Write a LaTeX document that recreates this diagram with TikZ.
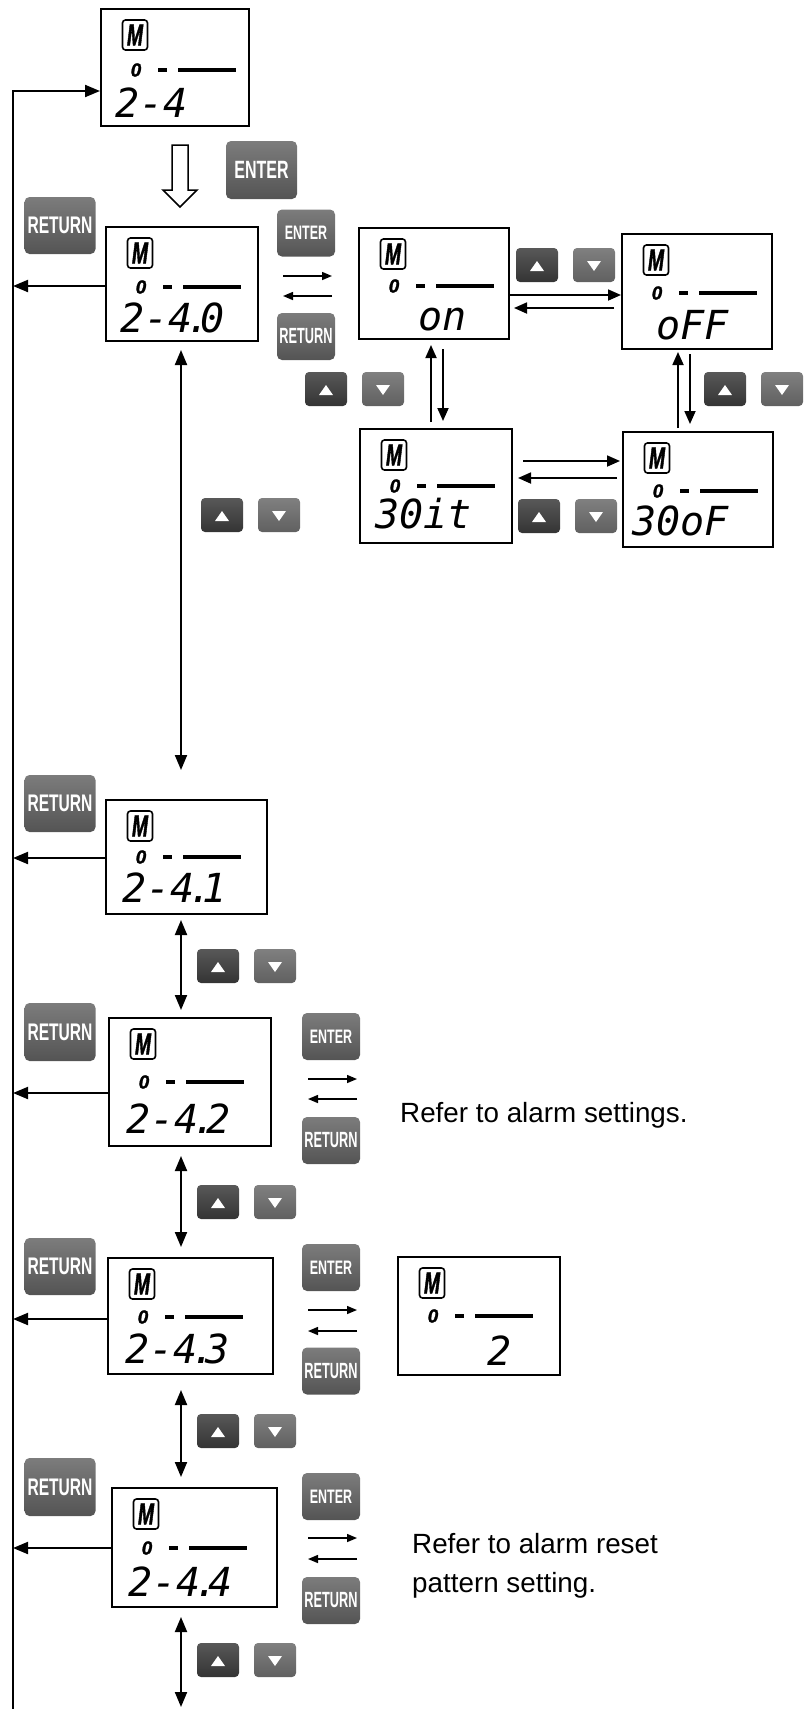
\documentclass[tikz,border=0pt]{standalone}
\usepackage{fontspec}
\setmainfont{Liberation Sans}
\newfontfamily\segfont{DejaVu Sans Mono}
\newfontfamily\zerofont{Liberation Sans}[FakeBold=1.5]
\newfontfamily\mfont{Liberation Sans}[FakeBold=2]
\usepackage{graphicx}
\usetikzlibrary{arrows.meta,calc}

\definecolor{btnTop}{RGB}{124,124,124}
\definecolor{btnBot}{RGB}{84,84,84}
\definecolor{upTop}{RGB}{88,88,88}
\definecolor{upBot}{RGB}{52,52,52}
\definecolor{dnTop}{RGB}{128,128,128}
\definecolor{dnBot}{RGB}{96,96,96}

\tikzset{
  lcdbox/.style={draw=black, line width=2pt, inner sep=0pt, fill=white},
  mbox/.style={draw=black, line width=1.6pt, rounded corners=3pt, minimum width=25pt, minimum height=30pt, inner sep=0pt, font=\mfont\fontsize{30}{30}\selectfont\bfseries\itshape},
  zerotxt/.style={inner sep=0pt, font=\zerofont\fontsize{19}{19}\selectfont\bfseries\itshape},
  segtxt/.style={inner sep=0pt, anchor=base west, font=\segfont\fontsize{40}{40}\selectfont\itshape},
  keybtn/.style={rounded corners=5pt, top color=btnTop, bottom color=btnBot, draw=none, inner sep=0pt, text=white, font=\bfseries},
  upbtn/.style={rounded corners=4pt, top color=upTop, bottom color=upBot, draw=none, minimum width=42pt, minimum height=34pt, inner sep=0pt,
    path picture={\fill[white, sharp corners] ($(path picture bounding box.center)+(0,-4)$) -- ++(7,10) -- ++(-14,0) -- cycle;}},
  dnbtn/.style={rounded corners=4pt, top color=dnTop, bottom color=dnBot, draw=none, minimum width=42pt, minimum height=34pt, inner sep=0pt,
    path picture={\fill[white, sharp corners] ($(path picture bounding box.center)+(0,6)$) -- ++(7,-10) -- ++(-14,0) -- cycle;}},
  spinearr/.style={line width=2pt, -{Triangle[length=15pt,width=12pt]}},
  dblarr/.style={line width=2pt, {Triangle[length=15pt,width=12pt]}-{Triangle[length=15pt,width=12pt]}},
  midarr/.style={line width=1.8pt, -{Triangle[length=13pt,width=11pt]}},
  smarr/.style={line width=1.5pt, -{Triangle[length=10pt,width=8pt]}},
  desc/.style={inner sep=0pt, font=\fontsize{27.8}{39}\selectfont, align=left},
}

\newcommand{\lcd}[9]{%
  \node[lcdbox, minimum width=#4pt, minimum height=#5pt, anchor=north west] (#1) at (#2,#3) {};
  \begin{scope}[shift={(#2,#3)}]
    \node[mbox] (#1-m) at (35,27) {\scalebox{0.64}[1]{M}};
    \node[zerotxt] (#1-z) at (36,#9) {0};
    \fill (58,#9-2) rectangle (67,#9+2);
    \fill (78,#9-2) rectangle (136,#9+2);
    \node[segtxt] (#1-d) at (#7,#8) {#6};
  \end{scope}
}
\newcommand{\segdot}{\kern-6pt.\kern-10pt}
\newcommand{\updn}[3]{%
  \node[upbtn] (#1u) at ({#2+21},{#3+17}) {};
  \node[dnbtn] (#1d) at ({#2+78},{#3+17}) {};
}
\newcommand{\entbig}{\fontsize{25}{25}\selectfont\scalebox{0.64}[1]{ENTER}}
\newcommand{\retbig}{\fontsize{24}{24}\selectfont\scalebox{0.65}[1]{RETURN}}
\newcommand{\entsm}{\fontsize{19.5}{19.5}\selectfont\scalebox{0.64}[1]{ENTER}}
\newcommand{\retsm}{\fontsize{22}{22}\selectfont\scalebox{0.58}[1]{RETURN}}

\begin{document}
\begin{tikzpicture}[x=1pt, y=-1pt]
\useasboundingbox (0,0) rectangle (810,1709);

% LCD panels
\lcd{b24}{100}{8}{148}{117}{2-4}{15}{109}{62}
\lcd{b40}{105}{226}{152}{114}{2-4\segdot0}{15}{106}{61}
\lcd{on}{358}{227}{150}{111}{on}{60}{103}{59}
\lcd{off}{621}{233}{150}{115}{oFF}{35}{106}{60}
\lcd{t30i}{359}{428}{152}{114}{30it}{16}{100}{58}
\lcd{t30o}{622}{431}{150}{115}{30oF}{10}{104}{60}
\lcd{b41}{105}{799}{161}{114}{2-4\segdot1}{17}{103}{58}
\lcd{b42}{108}{1017}{162}{128}{2-4\segdot2}{18}{116}{65}
\lcd{b43}{107}{1257}{165}{116}{2-4\segdot3}{18}{106}{60}
\lcd{b44}{111}{1487}{165}{119}{2-4\segdot4}{17}{109}{61}
\lcd{b2}{397}{1256}{162}{118}{2}{90}{109}{60}

% key buttons
\node[keybtn, minimum width=71pt, minimum height=58pt] (ent0) at (261.5,170) {\entbig};
\node[keybtn, minimum width=71pt, minimum height=57pt] (ret40) at (60,225.5) {\retbig};
\node[keybtn, minimum width=71pt, minimum height=57pt] (ret41) at (60,803.5) {\retbig};
\node[keybtn, minimum width=71pt, minimum height=58pt] (ret42) at (60,1032) {\retbig};
\node[keybtn, minimum width=71pt, minimum height=57pt] (ret43) at (60,1266.5) {\retbig};
\node[keybtn, minimum width=71pt, minimum height=58pt] (ret44) at (60,1487) {\retbig};
\node[keybtn, minimum width=58pt, minimum height=47pt] (ent40) at (306,233) {\entsm};
\node[keybtn, minimum width=58pt, minimum height=47pt] (rt40) at (306,336.5) {\retsm};
\node[keybtn, minimum width=58pt, minimum height=47pt] (ent42) at (331,1036.5) {\entsm};
\node[keybtn, minimum width=58pt, minimum height=47pt] (rt42) at (331,1140.5) {\retsm};
\node[keybtn, minimum width=58pt, minimum height=47pt] (ent43) at (331,1267.5) {\entsm};
\node[keybtn, minimum width=58pt, minimum height=47pt] (rt43) at (331,1371) {\retsm};
\node[keybtn, minimum width=58pt, minimum height=47pt] (ent44) at (331,1496.5) {\entsm};
\node[keybtn, minimum width=58pt, minimum height=47pt] (rt44) at (331,1600.5) {\retsm};

% up/down buttons
\updn{k1}{516}{248}
\updn{k2}{305}{372}
\updn{k3}{704}{372}
\updn{k4}{518}{499}
\updn{k5}{201}{498}
\updn{k6}{197}{949}
\updn{k7}{197}{1185}
\updn{k8}{197}{1414}
\updn{k9}{197}{1643}

% texts
\node[desc, anchor=base west] (txt1) at (400,1122) {Refer to alarm settings.};
\node[desc, anchor=north west] (txt2) at (412,1533) {Refer to alarm reset\\pattern setting.};

% hollow arrow
\draw[line width=1.5pt, fill=white] (172,145) -- (188,145) -- (188,190) -- (197,190) -- (180,207) -- (163,190) -- (172,190) -- cycle;

% spine
\coordinate (spTop) at (13,91);
\coordinate (spBot) at (13,1709);
\draw[spinearr] (spBot) -- (spTop) -- (b24.west |- spTop);
\coordinate (s40) at (13,286);
\coordinate (s41) at (13,858);
\coordinate (s42) at (13,1093);
\coordinate (s43) at (13,1319);
\coordinate (s44) at (13,1548);
\draw[spinearr] (b40.west |- s40) -- (s40);
\draw[spinearr] (b41.west |- s41) -- (s41);
\draw[spinearr] (b42.west |- s42) -- (s42);
\draw[spinearr] (b43.west |- s43) -- (s43);
\draw[spinearr] (b44.west |- s44) -- (s44);

% main column
\coordinate (vx) at (181,0);
\coordinate (vend) at (181,1707);
\draw[dblarr, shorten <=8pt, shorten >=29pt] (b40.south -| vx) -- (b41.north -| vx);
\draw[dblarr, shorten <=5pt, shorten >=7pt] (b41.south -| vx) -- (b42.north -| vx);
\draw[dblarr, shorten <=9pt, shorten >=10pt] (b42.south -| vx) -- (b43.north -| vx);
\draw[dblarr, shorten <=15pt, shorten >=10pt] (b43.south -| vx) -- (b44.north -| vx);
\draw[dblarr, shorten <=9pt] (b44.south -| vx) -- (vend);

% on / off cycle
\draw[midarr] (on.east |- 0,295) -- (off.west |- 0,295);
\draw[midarr, shorten <=7pt, shorten >=4pt] (off.west |- 0,308) -- (on.east |- 0,308);
\draw[midarr, shorten <=6pt, shorten >=5pt] (t30i.north -| 431,0) -- (on.south -| 431,0);
\draw[midarr, shorten <=9pt, shorten >=7pt] (on.south -| 443,0) -- (t30i.north -| 443,0);
\draw[midarr, shorten <=3pt, shorten >=2pt] (t30o.north -| 678,0) -- (off.south -| 678,0);
\draw[midarr, shorten <=4pt, shorten >=7pt] (off.south -| 690,0) -- (t30o.north -| 690,0);
\draw[midarr, shorten <=10pt, shorten >=2pt] (t30i.east |- 0,461) -- (t30o.west |- 0,461);
\draw[midarr, shorten <=5pt, shorten >=5pt] (t30o.west |- 0,478) -- (t30i.east |- 0,478);

% enter / return pairs
\draw[smarr, shorten <=24pt, shorten >=26pt] (b40.east |- 0,276) -- (on.west |- 0,276);
\draw[smarr, shorten <=26pt, shorten >=24pt] (on.west |- 0,296) -- (b40.east |- 0,296);
\draw[smarr, shorten <=36pt, shorten >=43pt] (b42.east |- 0,1079) -- (txt1.west |- 0,1079);
\draw[smarr, shorten <=43pt, shorten >=36pt] (txt1.west |- 0,1099) -- (b42.east |- 0,1099);
\draw[smarr, shorten <=34pt, shorten >=40pt] (b43.east |- 0,1310) -- (b2.west |- 0,1310);
\draw[smarr, shorten <=40pt, shorten >=34pt] (b2.west |- 0,1331) -- (b43.east |- 0,1331);
\draw[smarr, shorten <=30pt, shorten >=55pt] (b44.east |- 0,1538) -- (txt2.west |- 0,1538);
\draw[smarr, shorten <=55pt, shorten >=30pt] (txt2.west |- 0,1559) -- (b44.east |- 0,1559);
\end{tikzpicture}
\end{document}
